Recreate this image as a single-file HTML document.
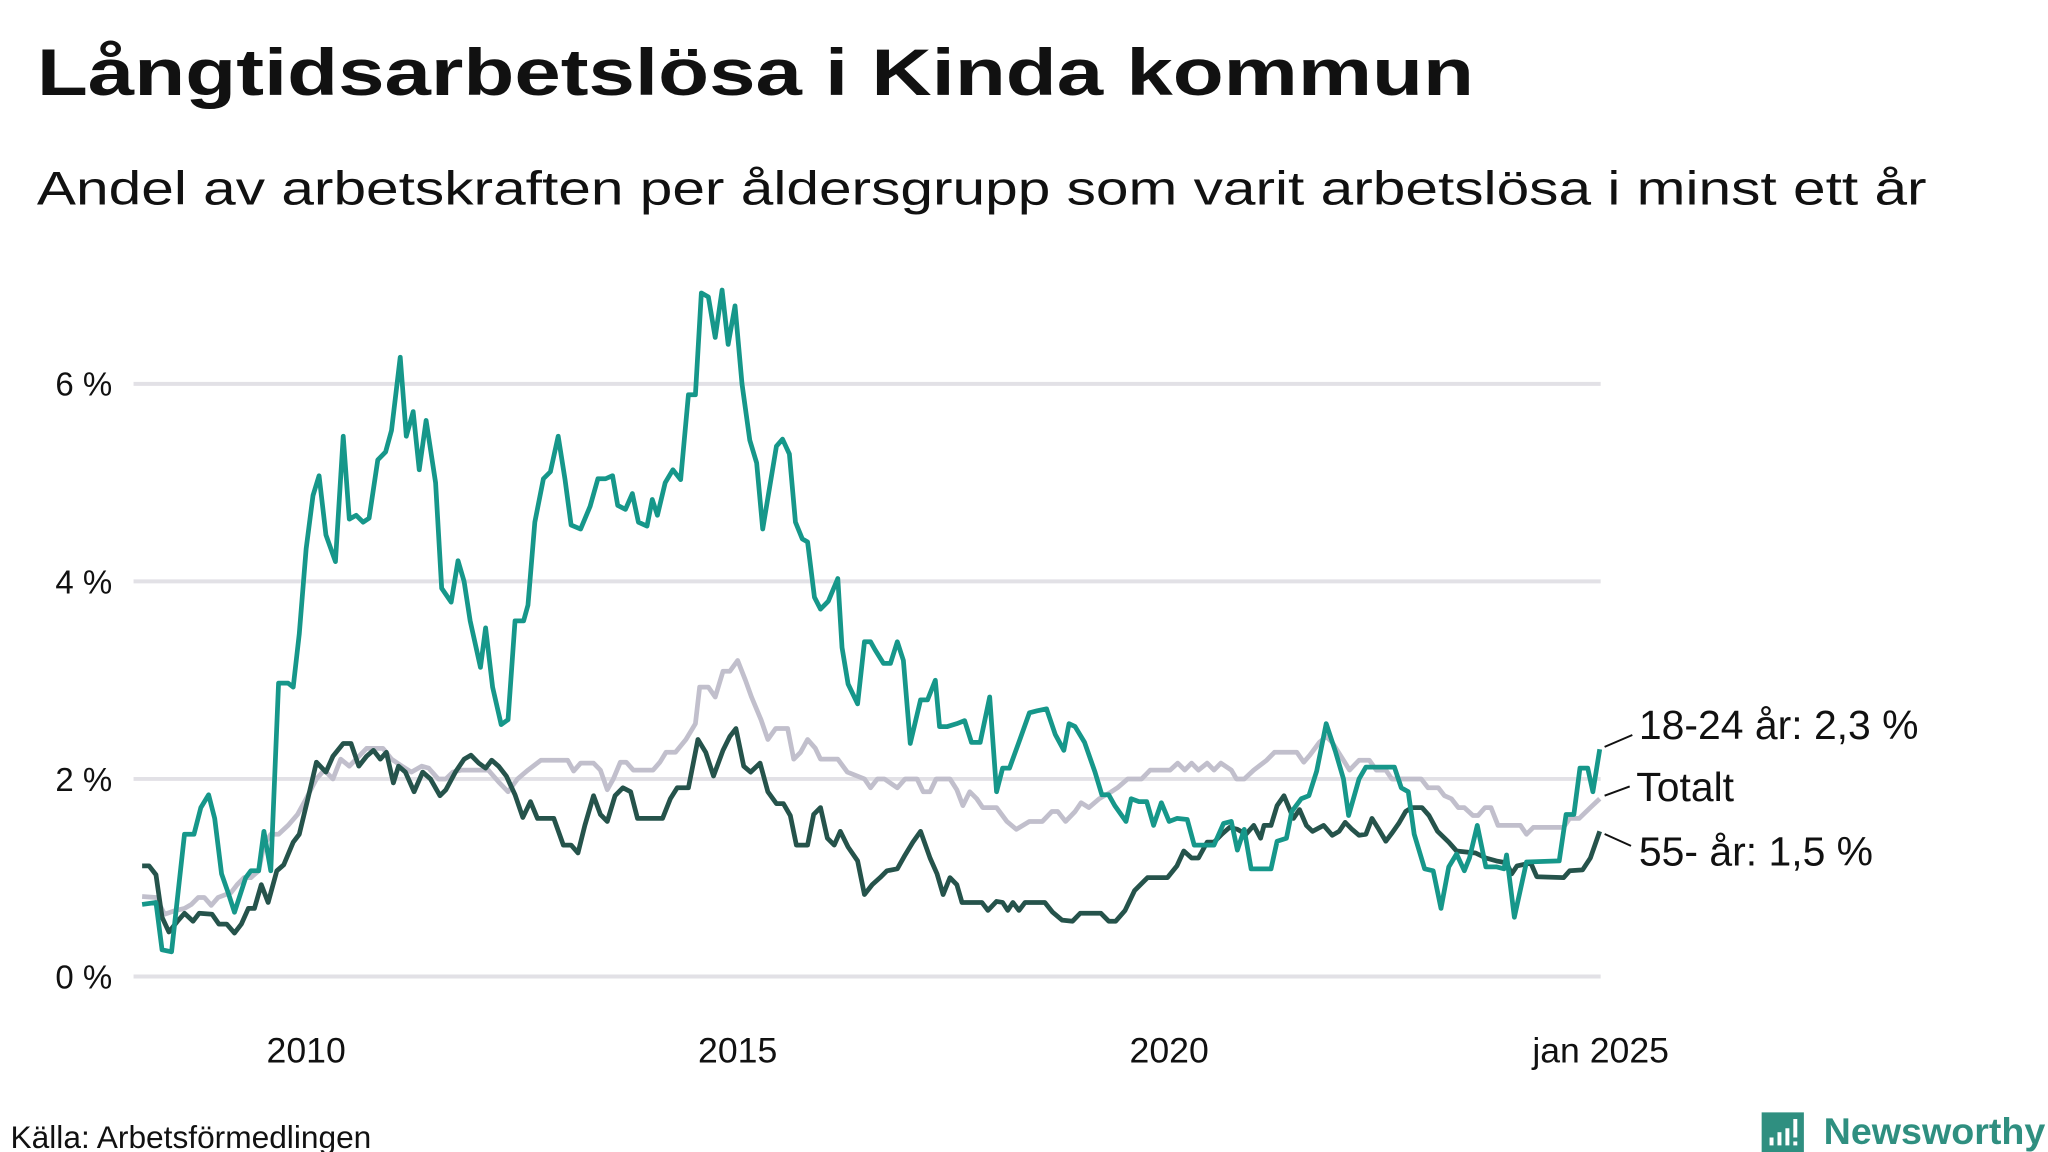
<!DOCTYPE html>
<html><head><meta charset="utf-8"><style>
html,body{margin:0;padding:0;background:#fff}
svg{display:block}
text{font-family:"Liberation Sans",sans-serif;fill:#111}
</style></head><body>
<svg id="chart" width="2048" height="1152" viewBox="0 0 1552 873" xmlns="http://www.w3.org/2000/svg">
<text x="28" y="72" font-size="50" font-weight="bold" textLength="1089" lengthAdjust="spacingAndGlyphs">Långtidsarbetslösa i Kinda kommun</text>
<text x="28" y="155" font-size="36" textLength="1432" lengthAdjust="spacingAndGlyphs">Andel av arbetskraften per åldersgrupp som varit arbetslösa i minst ett år</text>
<g id="grid"></g>
<g id="series"></g>
<g id="xaxis"></g>
<g>
<line x1="1216" y1="566" x2="1237" y2="557" stroke="#111" stroke-width="1.5"/>
<line x1="1216" y1="603" x2="1235" y2="596" stroke="#111" stroke-width="1.5"/>
<line x1="1216" y1="632" x2="1236" y2="641" stroke="#111" stroke-width="1.5"/>
<text x="1242" y="560" font-size="31">18-24 år: 2,3 %</text>
<text x="1240" y="607" font-size="31">Totalt</text>
<text x="1242" y="656" font-size="31">55- år: 1,5 %</text>
</g>
<text x="8" y="870" font-size="24">Källa: Arbetsförmedlingen</text>
<g>
<path d="M1335 843 h32 v30 h-10 l-6 8 l-6 -8 h-10 z" fill="#2f8f80"/>
<rect x="1341" y="862" width="3" height="6" fill="#fff"/><rect x="1347" y="858" width="3" height="10" fill="#fff"/><rect x="1353" y="855" width="3" height="13" fill="#fff"/><rect x="1359" y="848" width="3" height="14" fill="#fff"/><rect x="1359" y="865" width="3" height="3" fill="#fff"/>
<text x="1382" y="867" font-size="28" font-weight="bold" style="fill:#2f8f80" textLength="168" lengthAdjust="spacingAndGlyphs">Newsworthy</text>
</g>
</svg>
<script>
const yTicks = [0, 2, 4, 6];
const yTickLabels = ["0 %", "2 %", "4 %", "6 %"];
const xTicks = [2010, 2015, 2020, 2025];
const xTickLabels = ["2010", "2015", "2020", "jan 2025"];

const youngT = [2008.10,2008.26,2008.33,2008.44,2008.59,2008.70,2008.78,2008.87,2008.94,2009.02,2009.10,2009.17,2009.30,2009.36,2009.45,2009.51,2009.59,2009.68,2009.79,2009.85,2009.92,2010.00,2010.08,2010.15,2010.23,2010.34,2010.43,2010.50,2010.58,2010.66,2010.73,2010.83,2010.92,2010.99,2011.09,2011.16,2011.24,2011.31,2011.39,2011.50,2011.57,2011.68,2011.76,2011.83,2011.90,2012.02,2012.08,2012.16,2012.26,2012.34,2012.42,2012.52,2012.57,2012.65,2012.75,2012.83,2012.92,2013.00,2013.07,2013.18,2013.29,2013.38,2013.47,2013.55,2013.61,2013.70,2013.78,2013.85,2013.95,2014.01,2014.07,2014.16,2014.25,2014.34,2014.43,2014.51,2014.58,2014.66,2014.74,2014.82,2014.89,2014.97,2015.05,2015.14,2015.22,2015.29,2015.45,2015.52,2015.60,2015.67,2015.75,2015.81,2015.89,2015.96,2016.05,2016.16,2016.21,2016.28,2016.39,2016.47,2016.54,2016.59,2016.69,2016.77,2016.85,2016.92,2017.00,2017.12,2017.20,2017.29,2017.34,2017.43,2017.54,2017.63,2017.71,2017.81,2017.92,2018.00,2018.07,2018.15,2018.27,2018.38,2018.47,2018.58,2018.68,2018.78,2018.84,2018.91,2019.02,2019.14,2019.22,2019.30,2019.37,2019.50,2019.56,2019.65,2019.74,2019.82,2019.91,2020.00,2020.09,2020.21,2020.29,2020.52,2020.63,2020.72,2020.79,2020.87,2020.95,2021.18,2021.25,2021.36,2021.42,2021.53,2021.62,2021.71,2021.82,2021.93,2022.02,2022.08,2022.20,2022.28,2022.61,2022.69,2022.77,2022.84,2022.96,2023.06,2023.15,2023.24,2023.33,2023.42,2023.48,2023.57,2023.67,2023.79,2023.88,2023.91,2024.00,2024.14,2024.52,2024.60,2024.69,2024.76,2024.85,2024.91,2024.99];
const youngV = [0.73,0.75,0.27,0.25,1.44,1.44,1.71,1.84,1.6,1.04,0.84,0.65,1.0,1.07,1.07,1.47,1.07,2.97,2.97,2.93,3.47,4.33,4.87,5.07,4.47,4.2,5.47,4.63,4.67,4.6,4.64,5.23,5.31,5.53,6.27,5.47,5.72,5.13,5.63,5.0,3.93,3.79,4.21,4.0,3.6,3.13,3.53,2.93,2.55,2.6,3.6,3.6,3.76,4.6,5.04,5.11,5.47,5.03,4.57,4.53,4.76,5.04,5.04,5.07,4.77,4.73,4.89,4.6,4.56,4.83,4.67,5.0,5.13,5.03,5.89,5.89,6.92,6.88,6.47,6.95,6.4,6.79,6.0,5.43,5.2,4.53,5.37,5.44,5.29,4.6,4.43,4.4,3.84,3.72,3.8,4.03,3.33,2.96,2.76,3.39,3.39,3.31,3.17,3.17,3.39,3.2,2.36,2.8,2.8,3.0,2.53,2.53,2.56,2.59,2.37,2.37,2.83,1.87,2.11,2.11,2.4,2.67,2.69,2.71,2.45,2.29,2.56,2.53,2.37,2.07,1.84,1.84,1.73,1.57,1.8,1.77,1.77,1.53,1.76,1.57,1.6,1.59,1.33,1.33,1.55,1.57,1.28,1.49,1.09,1.09,1.37,1.4,1.67,1.8,1.83,2.08,2.56,2.27,2.0,1.63,2.0,2.12,2.12,1.91,1.87,1.44,1.09,1.07,0.69,1.11,1.24,1.07,1.2,1.53,1.11,1.11,1.09,1.23,0.6,1.16,1.17,1.64,1.64,2.11,2.11,1.87,2.3];

const oldT = [2008.10,2008.18,2008.26,2008.33,2008.41,2008.52,2008.59,2008.69,2008.76,2008.91,2008.99,2009.08,2009.17,2009.25,2009.33,2009.40,2009.48,2009.56,2009.66,2009.74,2009.85,2009.92,2010.02,2010.12,2010.23,2010.31,2010.43,2010.52,2010.61,2010.70,2010.78,2010.86,2010.93,2011.01,2011.07,2011.15,2011.25,2011.35,2011.44,2011.55,2011.62,2011.73,2011.83,2011.91,2012.00,2012.08,2012.15,2012.23,2012.32,2012.42,2012.51,2012.60,2012.68,2012.87,2012.98,2013.07,2013.15,2013.23,2013.33,2013.41,2013.49,2013.58,2013.67,2013.76,2013.84,2014.13,2014.22,2014.30,2014.43,2014.54,2014.63,2014.72,2014.83,2014.91,2014.98,2015.07,2015.15,2015.26,2015.35,2015.45,2015.53,2015.61,2015.68,2015.81,2015.88,2015.96,2016.04,2016.12,2016.19,2016.28,2016.39,2016.47,2016.56,2016.65,2016.73,2016.85,2016.94,2017.03,2017.12,2017.23,2017.31,2017.38,2017.46,2017.54,2017.60,2017.83,2017.90,2018.00,2018.07,2018.13,2018.19,2018.26,2018.33,2018.56,2018.65,2018.76,2018.88,2018.97,2019.21,2019.30,2019.38,2019.49,2019.60,2019.75,2019.98,2020.09,2020.17,2020.26,2020.34,2020.44,2020.52,2020.61,2020.70,2020.79,2020.89,2020.98,2021.06,2021.10,2021.18,2021.25,2021.33,2021.44,2021.51,2021.59,2021.66,2021.79,2021.89,2021.97,2022.04,2022.12,2022.20,2022.28,2022.35,2022.43,2022.51,2022.58,2022.66,2022.74,2022.81,2022.93,2023.01,2023.11,2023.24,2023.33,2023.55,2023.67,2023.79,2023.91,2023.97,2024.03,2024.19,2024.26,2024.57,2024.64,2024.79,2024.88,2024.99];
const oldV = [1.12,1.12,1.03,0.6,0.45,0.57,0.64,0.56,0.64,0.63,0.53,0.53,0.44,0.53,0.69,0.69,0.93,0.75,1.07,1.13,1.36,1.44,1.8,2.17,2.07,2.23,2.36,2.36,2.13,2.23,2.29,2.2,2.27,1.96,2.13,2.07,1.87,2.07,2.0,1.83,1.89,2.07,2.2,2.24,2.16,2.11,2.19,2.13,2.03,1.84,1.61,1.77,1.6,1.6,1.33,1.33,1.25,1.53,1.83,1.64,1.57,1.83,1.91,1.87,1.6,1.6,1.8,1.91,1.91,2.4,2.27,2.03,2.29,2.43,2.51,2.13,2.07,2.16,1.87,1.75,1.75,1.63,1.33,1.33,1.64,1.71,1.4,1.33,1.47,1.31,1.17,0.83,0.93,1.0,1.07,1.09,1.23,1.36,1.47,1.2,1.04,0.83,1.0,0.93,0.75,0.75,0.67,0.76,0.75,0.67,0.75,0.67,0.75,0.75,0.65,0.57,0.56,0.64,0.64,0.56,0.56,0.67,0.87,1.0,1.0,1.12,1.27,1.2,1.2,1.36,1.36,1.44,1.51,1.49,1.44,1.53,1.4,1.53,1.53,1.73,1.83,1.6,1.69,1.53,1.47,1.53,1.43,1.47,1.56,1.49,1.43,1.44,1.6,1.49,1.37,1.45,1.55,1.67,1.71,1.71,1.63,1.47,1.36,1.27,1.25,1.2,1.17,1.15,1.04,1.12,1.15,1.01,1.0,1.07,1.08,1.2,1.47];

const totalT = [2008.10,2008.26,2008.36,2008.49,2008.59,2008.67,2008.75,2008.82,2008.90,2008.98,2009.13,2009.20,2009.28,2009.36,2009.45,2009.51,2009.59,2009.68,2009.79,2009.90,2010.00,2010.12,2010.21,2010.31,2010.40,2010.50,2010.58,2010.70,2010.89,2010.99,2011.11,2011.22,2011.34,2011.42,2011.53,2011.62,2011.70,2011.80,2012.11,2012.23,2012.34,2012.45,2012.57,2012.72,2013.03,2013.10,2013.18,2013.33,2013.41,2013.49,2013.56,2013.64,2013.71,2013.79,2014.02,2014.10,2014.17,2014.28,2014.40,2014.51,2014.56,2014.66,2014.74,2014.83,2014.91,2015.00,2015.09,2015.16,2015.27,2015.35,2015.44,2015.58,2015.65,2015.73,2015.81,2015.90,2015.96,2016.16,2016.27,2016.47,2016.54,2016.62,2016.70,2016.85,2016.94,2017.08,2017.15,2017.23,2017.30,2017.46,2017.54,2017.61,2017.69,2017.77,2017.84,2018.00,2018.12,2018.23,2018.38,2018.53,2018.64,2018.71,2018.80,2018.91,2018.98,2019.07,2019.19,2019.33,2019.40,2019.52,2019.68,2019.78,2020.01,2020.10,2020.18,2020.26,2020.34,2020.44,2020.52,2020.60,2020.72,2020.78,2020.87,2020.98,2021.13,2021.22,2021.48,2021.56,2021.63,2021.74,2021.82,2021.89,2022.02,2022.09,2022.20,2022.32,2022.40,2022.51,2022.58,2022.92,2023.00,2023.12,2023.19,2023.27,2023.35,2023.42,2023.52,2023.58,2023.66,2023.73,2023.81,2024.07,2024.14,2024.22,2024.57,2024.64,2024.75,2024.88,2024.99];
const totalV = [0.81,0.8,0.63,0.67,0.69,0.73,0.8,0.8,0.72,0.8,0.85,0.93,1.0,1.0,1.07,1.33,1.44,1.44,1.53,1.64,1.8,2.0,2.09,2.0,2.2,2.13,2.2,2.31,2.31,2.2,2.13,2.07,2.13,2.11,2.0,2.0,2.07,2.09,2.09,1.97,1.87,2.0,2.09,2.19,2.19,2.08,2.16,2.16,2.09,1.89,2.0,2.17,2.17,2.09,2.09,2.17,2.27,2.27,2.4,2.56,2.93,2.93,2.83,3.09,3.09,3.2,3.0,2.83,2.6,2.4,2.51,2.51,2.2,2.27,2.4,2.31,2.2,2.2,2.07,2.0,1.91,2.0,2.0,1.91,2.0,2.0,1.87,1.87,2.0,2.0,1.89,1.73,1.87,1.8,1.71,1.71,1.57,1.49,1.57,1.57,1.67,1.67,1.57,1.67,1.76,1.71,1.8,1.87,1.91,2.0,2.0,2.09,2.09,2.16,2.09,2.16,2.09,2.16,2.09,2.16,2.09,2.0,2.0,2.09,2.19,2.27,2.27,2.17,2.24,2.37,2.43,2.37,2.19,2.09,2.19,2.19,2.09,2.09,2.0,2.0,1.91,1.91,1.83,1.8,1.71,1.71,1.63,1.63,1.71,1.71,1.53,1.53,1.44,1.51,1.51,1.6,1.6,1.71,1.8];

const NS = "http://www.w3.org/2000/svg";
const X0 = 101.2, X1 = 1213, T0 = 2008.0, T1 = 2025.0;
const Y0 = 740, PER = 74.85;
function xScale(t){ return X0 + (t - T0) / (T1 - T0) * (X1 - X0); }
function yScale(v){ return Y0 - v * PER; }

const grid = document.getElementById('grid');
yTicks.forEach((v, i) => {
  const l = document.createElementNS(NS, 'line');
  
  
  l.setAttribute('x1', X0); l.setAttribute('x2', X1);
  l.setAttribute('y1', yScale(v)); l.setAttribute('y2', yScale(v));
  l.setAttribute('stroke', '#e2e1e6'); l.setAttribute('stroke-width', '3');
  grid.appendChild(l);
  const t = document.createElementNS(NS, 'text');
  
  
  t.setAttribute('x', 85); t.setAttribute('y', yScale(v) + 9);
  t.setAttribute('text-anchor', 'end'); t.setAttribute('font-size', '25');
  t.textContent = yTickLabels[i];
  grid.appendChild(t);
});

const xaxis = document.getElementById('xaxis');
xTicks.forEach((v, i) => {
  const t = document.createElementNS(NS, 'text');
  
  
  t.setAttribute('x', xScale(v)); t.setAttribute('y', 805);
  t.setAttribute('text-anchor', 'middle'); t.setAttribute('font-size', '27');
  t.textContent = xTickLabels[i];
  xaxis.appendChild(t);
});

const series = document.getElementById('series');
function draw(ts, vs, color, name){
  const d = ts.map((t, i) => (i ? 'L' : 'M') + xScale(t).toFixed(1) + ' ' + yScale(vs[i]).toFixed(1)).join(' ');
  const p = document.createElementNS(NS, 'path');
  
  
  p.setAttribute('d', d);
  p.setAttribute('fill', 'none'); p.setAttribute('stroke', color);
  p.setAttribute('stroke-width', '3.6'); p.setAttribute('stroke-linejoin', 'round');
  series.appendChild(p);
}
draw(totalT, totalV, '#c1bfcc', 'line-totalt');
draw(oldT, oldV, '#25534b', 'line-55-ar');
draw(youngT, youngV, '#16978a', 'line-18-24-ar');
</script>
</body></html>
